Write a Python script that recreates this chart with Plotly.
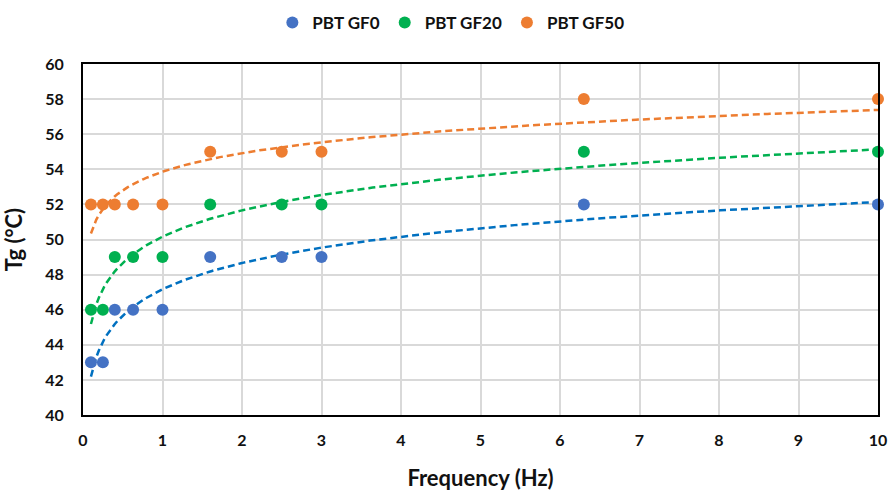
import numpy as np
import plotly.graph_objects as go

freq = [0.1, 0.25, 0.4, 0.63, 1.0, 1.6, 2.5, 3.0, 6.3, 10.0]
gf0 = [43, 43, 46, 46, 46, 49, 49, 49, 52, 52]
gf20 = [46, 46, 49, 49, 49, 52, 52, 52, 55, 55]
gf50 = [52, 52, 52, 52, 52, 55, 55, 55, 58, 58]

series = [
    ("PBT GF0", gf0, "#4472C4", "#0070C0"),
    ("PBT GF20", gf20, "#00B050", "#00B050"),
    ("PBT GF50", gf50, "#ED7D31", "#ED7D31"),
]

font_family = "Lato, 'Open Sans', sans-serif"
fig = go.Figure()

xs = np.linspace(min(freq), max(freq), 300)
for name, ys, mcol, lcol in series:
    a, b = np.polyfit(np.log(freq), ys, 1)
    fig.add_trace(go.Scatter(x=xs, y=a * np.log(xs) + b, mode="lines",
                             line=dict(color=lcol, width=2.5, dash="7px,4px"),
                             showlegend=False, hoverinfo="skip", cliponaxis=False))

for name, ys, mcol, lcol in series:
    fig.add_trace(go.Scatter(x=freq, y=ys, mode="markers", name=f"<b>{name}</b>",
                             marker=dict(color=mcol, size=12),
                             cliponaxis=False))

fig.update_layout(
    width=891, height=495,
    margin=dict(l=83, r=13, t=64, b=80, autoexpand=False),
    paper_bgcolor="white", plot_bgcolor="white",
    font=dict(family=font_family, color="#111111"),
    legend=dict(orientation="h", x=0.506, xanchor="center", xref="container",
                y=0.99, yanchor="top", yref="container",
                font=dict(size=17, family=font_family, color="#111111"),
                itemsizing="constant", traceorder="normal", itemwidth=30),
    showlegend=True,
)

fig.update_xaxes(range=[0, 10], dtick=1, tick0=0, showgrid=True, gridcolor="#D9D9D9", gridwidth=1.5,
                 showline=True, linecolor="black", linewidth=2, mirror=True, zeroline=False,
                 ticks="", ticklabelstandoff=10, automargin=False,
                 tickfont=dict(size=16, family=font_family, color="#111111", weight="bold"),
                 title=dict(text="<b>Frequency (Hz)</b>", font=dict(size=22, family=font_family, color="#111111"), standoff=22))
fig.update_yaxes(range=[40, 60], dtick=2, tick0=40, showgrid=True, gridcolor="#D9D9D9", gridwidth=1.5,
                 showline=True, linecolor="black", linewidth=2, mirror=True, zeroline=False,
                 ticks="", ticklabelstandoff=14, automargin=False,
                 tickfont=dict(size=16, family=font_family, color="#111111", weight="bold"),
                 title=dict(text="<b>Tg (°C)</b>", font=dict(size=22, family=font_family, color="#111111"), standoff=18))

fig.write_html("out.html")
